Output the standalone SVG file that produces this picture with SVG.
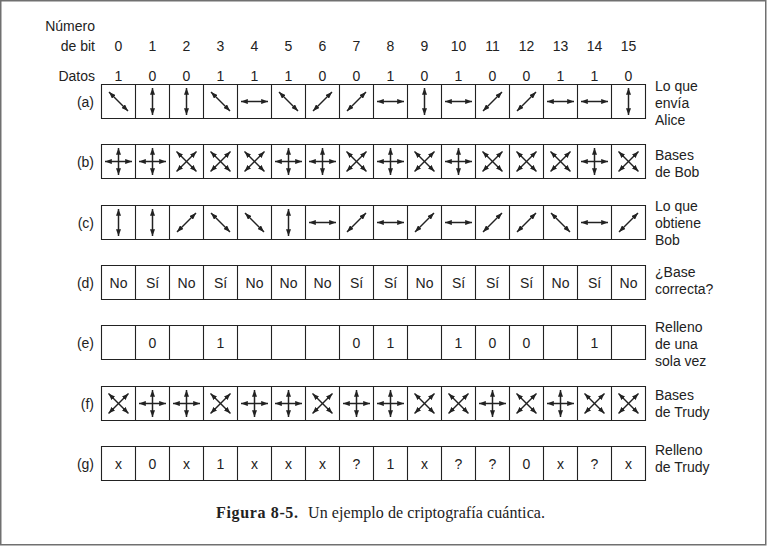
<svg xmlns="http://www.w3.org/2000/svg" xmlns:xlink="http://www.w3.org/1999/xlink" width="767" height="546" viewBox="0 0 767 546">
<style>
.t{font-family:"Liberation Sans",Arial,sans-serif;font-size:14px;fill:#222}
.c{text-anchor:middle}
.e{text-anchor:end}
.box{fill:none;stroke:#222;stroke-width:1.1}
.ar{stroke:#222;stroke-width:1.5;fill:none;marker-start:url(#ah);marker-end:url(#ah)}
.cap{font-family:"Liberation Serif","Times New Roman",serif;font-size:16px;fill:#222}
</style>
<defs>
<marker id="ah" viewBox="0 0 8 6" refX="8" refY="3" markerWidth="6.8" markerHeight="5.1" markerUnits="userSpaceOnUse" orient="auto-start-reverse">
<path d="M0,0 L8,3 L0,6 z" fill="#222"/>
</marker>
<g id="h"><line class="ar" x1="-13.5" y1="0" x2="13.5" y2="0"/></g>
<g id="v"><line class="ar" x1="0" y1="-13.5" x2="0" y2="13.5"/></g>
<g id="d1"><line class="ar" x1="-9.5" y1="-9.5" x2="9.5" y2="9.5"/></g>
<g id="d2"><line class="ar" x1="-9.5" y1="9.5" x2="9.5" y2="-9.5"/></g>
<g id="p"><line class="ar" x1="-13.5" y1="0" x2="13.5" y2="0"/><line class="ar" x1="0" y1="-13.5" x2="0" y2="13.5"/></g>
<g id="x"><line class="ar" x1="-10" y1="-10" x2="10" y2="10"/><line class="ar" x1="-10" y1="10" x2="10" y2="-10"/></g>
<path id="cells" d="M0,0 h544 v34 h-544 z M34,0 v34 M68,0 v34 M102,0 v34 M136,0 v34 M170,0 v34 M204,0 v34 M238,0 v34 M272,0 v34 M306,0 v34 M340,0 v34 M374,0 v34 M408,0 v34 M442,0 v34 M476,0 v34 M510,0 v34"/>
</defs>
<rect x="0.75" y="0.75" width="765" height="544" fill="#fff" stroke="#707070" stroke-width="1.5"/>

<g id="header">
<text class="t e" x="95" y="31">Número</text>
<text class="t e" x="95" y="51">de bit</text>
<g class="t c">
<text x="118.5" y="51">0</text><text x="152.5" y="51">1</text><text x="186.5" y="51">2</text><text x="220.5" y="51">3</text><text x="254.5" y="51">4</text><text x="288.5" y="51">5</text><text x="322.5" y="51">6</text><text x="356.5" y="51">7</text><text x="390.5" y="51">8</text><text x="424.5" y="51">9</text><text x="458.5" y="51">10</text><text x="492.5" y="51">11</text><text x="526.5" y="51">12</text><text x="560.5" y="51">13</text><text x="594.5" y="51">14</text><text x="628.5" y="51">15</text>
</g>
<text class="t e" x="95" y="81">Datos</text>
<g class="t c">
<text x="118.5" y="81">1</text><text x="152.5" y="81">0</text><text x="186.5" y="81">0</text><text x="220.5" y="81">1</text><text x="254.5" y="81">1</text><text x="288.5" y="81">1</text><text x="322.5" y="81">0</text><text x="356.5" y="81">0</text><text x="390.5" y="81">1</text><text x="424.5" y="81">0</text><text x="458.5" y="81">1</text><text x="492.5" y="81">0</text><text x="526.5" y="81">0</text><text x="560.5" y="81">1</text><text x="594.5" y="81">1</text><text x="628.5" y="81">0</text>
</g>
</g>

<g id="row-a">
<text class="t e" x="94" y="106.5">(a)</text>
<use href="#cells" class="box" x="101.5" y="84.5"/>
<g transform="translate(0,101.5)">
<use href="#d1" x="118.5"/><use href="#v" x="152.5"/><use href="#v" x="186.5"/><use href="#d1" x="220.5"/><use href="#h" x="254.5"/><use href="#d1" x="288.5"/><use href="#d2" x="322.5"/><use href="#d2" x="356.5"/><use href="#h" x="390.5"/><use href="#v" x="424.5"/><use href="#h" x="458.5"/><use href="#d2" x="492.5"/><use href="#d2" x="526.5"/><use href="#h" x="560.5"/><use href="#h" x="594.5"/><use href="#v" x="628.5"/>
</g>
<text class="t" x="655" y="91">Lo que</text><text class="t" x="655" y="108">envía</text><text class="t" x="655" y="125">Alice</text>
</g>

<g id="row-b">
<text class="t e" x="94" y="166.5">(b)</text>
<use href="#cells" class="box" x="101.5" y="144.5"/>
<g transform="translate(0,161.5)">
<use href="#p" x="118.5"/><use href="#p" x="152.5"/><use href="#x" x="186.5"/><use href="#x" x="220.5"/><use href="#x" x="254.5"/><use href="#p" x="288.5"/><use href="#p" x="322.5"/><use href="#x" x="356.5"/><use href="#p" x="390.5"/><use href="#x" x="424.5"/><use href="#p" x="458.5"/><use href="#x" x="492.5"/><use href="#x" x="526.5"/><use href="#x" x="560.5"/><use href="#p" x="594.5"/><use href="#x" x="628.5"/>
</g>
<text class="t" x="655" y="160">Bases</text><text class="t" x="655" y="177">de Bob</text>
</g>

<g id="row-c">
<text class="t e" x="94" y="227.5">(c)</text>
<use href="#cells" class="box" x="101.5" y="205.5"/>
<g transform="translate(0,222.5)">
<use href="#v" x="118.5"/><use href="#v" x="152.5"/><use href="#d2" x="186.5"/><use href="#d1" x="220.5"/><use href="#d1" x="254.5"/><use href="#v" x="288.5"/><use href="#h" x="322.5"/><use href="#d2" x="356.5"/><use href="#h" x="390.5"/><use href="#d2" x="424.5"/><use href="#h" x="458.5"/><use href="#d2" x="492.5"/><use href="#d2" x="526.5"/><use href="#d1" x="560.5"/><use href="#h" x="594.5"/><use href="#d2" x="628.5"/>
</g>
<text class="t" x="655" y="210.5">Lo que</text><text class="t" x="655" y="227.5">obtiene</text><text class="t" x="655" y="244.5">Bob</text>
</g>

<g id="row-d">
<text class="t e" x="94" y="287.5">(d)</text>
<use href="#cells" class="box" x="101.5" y="265.5"/>
<g class="t c">
<text x="118.5" y="287.5">No</text><text x="152.5" y="287.5">Sí</text><text x="186.5" y="287.5">No</text><text x="220.5" y="287.5">Sí</text><text x="254.5" y="287.5">No</text><text x="288.5" y="287.5">No</text><text x="322.5" y="287.5">No</text><text x="356.5" y="287.5">Sí</text><text x="390.5" y="287.5">Sí</text><text x="424.5" y="287.5">No</text><text x="458.5" y="287.5">Sí</text><text x="492.5" y="287.5">Sí</text><text x="526.5" y="287.5">Sí</text><text x="560.5" y="287.5">No</text><text x="594.5" y="287.5">Sí</text><text x="628.5" y="287.5">No</text>
</g>
<text class="t" x="655" y="277">¿Base</text><text class="t" x="655" y="294">correcta?</text>
</g>

<g id="row-e">
<text class="t e" x="94" y="347.5">(e)</text>
<use href="#cells" class="box" x="101.5" y="325.5"/>
<g class="t c">
<text x="152.5" y="347.5">0</text><text x="220.5" y="347.5">1</text><text x="356.5" y="347.5">0</text><text x="390.5" y="347.5">1</text><text x="458.5" y="347.5">1</text><text x="492.5" y="347.5">0</text><text x="526.5" y="347.5">0</text><text x="594.5" y="347.5">1</text>
</g>
<text class="t" x="655" y="332">Relleno</text><text class="t" x="655" y="349">de una</text><text class="t" x="655" y="366">sola vez</text>
</g>

<g id="row-f">
<text class="t e" x="94" y="408.5">(f)</text>
<use href="#cells" class="box" x="101.5" y="386.5"/>
<g transform="translate(0,403.5)">
<use href="#x" x="118.5"/><use href="#p" x="152.5"/><use href="#p" x="186.5"/><use href="#x" x="220.5"/><use href="#p" x="254.5"/><use href="#p" x="288.5"/><use href="#x" x="322.5"/><use href="#p" x="356.5"/><use href="#p" x="390.5"/><use href="#x" x="424.5"/><use href="#x" x="458.5"/><use href="#p" x="492.5"/><use href="#x" x="526.5"/><use href="#p" x="560.5"/><use href="#x" x="594.5"/><use href="#x" x="628.5"/>
</g>
<text class="t" x="655" y="400">Bases</text><text class="t" x="655" y="417">de Trudy</text>
</g>

<g id="row-g">
<text class="t e" x="94" y="468.5">(g)</text>
<use href="#cells" class="box" x="101.5" y="446.5"/>
<g class="t c">
<text x="118.5" y="468.5">x</text><text x="152.5" y="468.5">0</text><text x="186.5" y="468.5">x</text><text x="220.5" y="468.5">1</text><text x="254.5" y="468.5">x</text><text x="288.5" y="468.5">x</text><text x="322.5" y="468.5">x</text><text x="356.5" y="468.5">?</text><text x="390.5" y="468.5">1</text><text x="424.5" y="468.5">x</text><text x="458.5" y="468.5">?</text><text x="492.5" y="468.5">?</text><text x="526.5" y="468.5">0</text><text x="560.5" y="468.5">x</text><text x="594.5" y="468.5">?</text><text x="628.5" y="468.5">x</text>
</g>
<text class="t" x="655" y="454.5">Relleno</text><text class="t" x="655" y="471.5">de Trudy</text>
</g>

<g id="caption">
<text class="cap" x="216" y="518" font-weight="bold" textLength="82" lengthAdjust="spacing">Figura 8-5.</text>
<text class="cap" x="308" y="518" textLength="237" lengthAdjust="spacing">Un ejemplo de criptografía cuántica.</text>
</g>
</svg>
